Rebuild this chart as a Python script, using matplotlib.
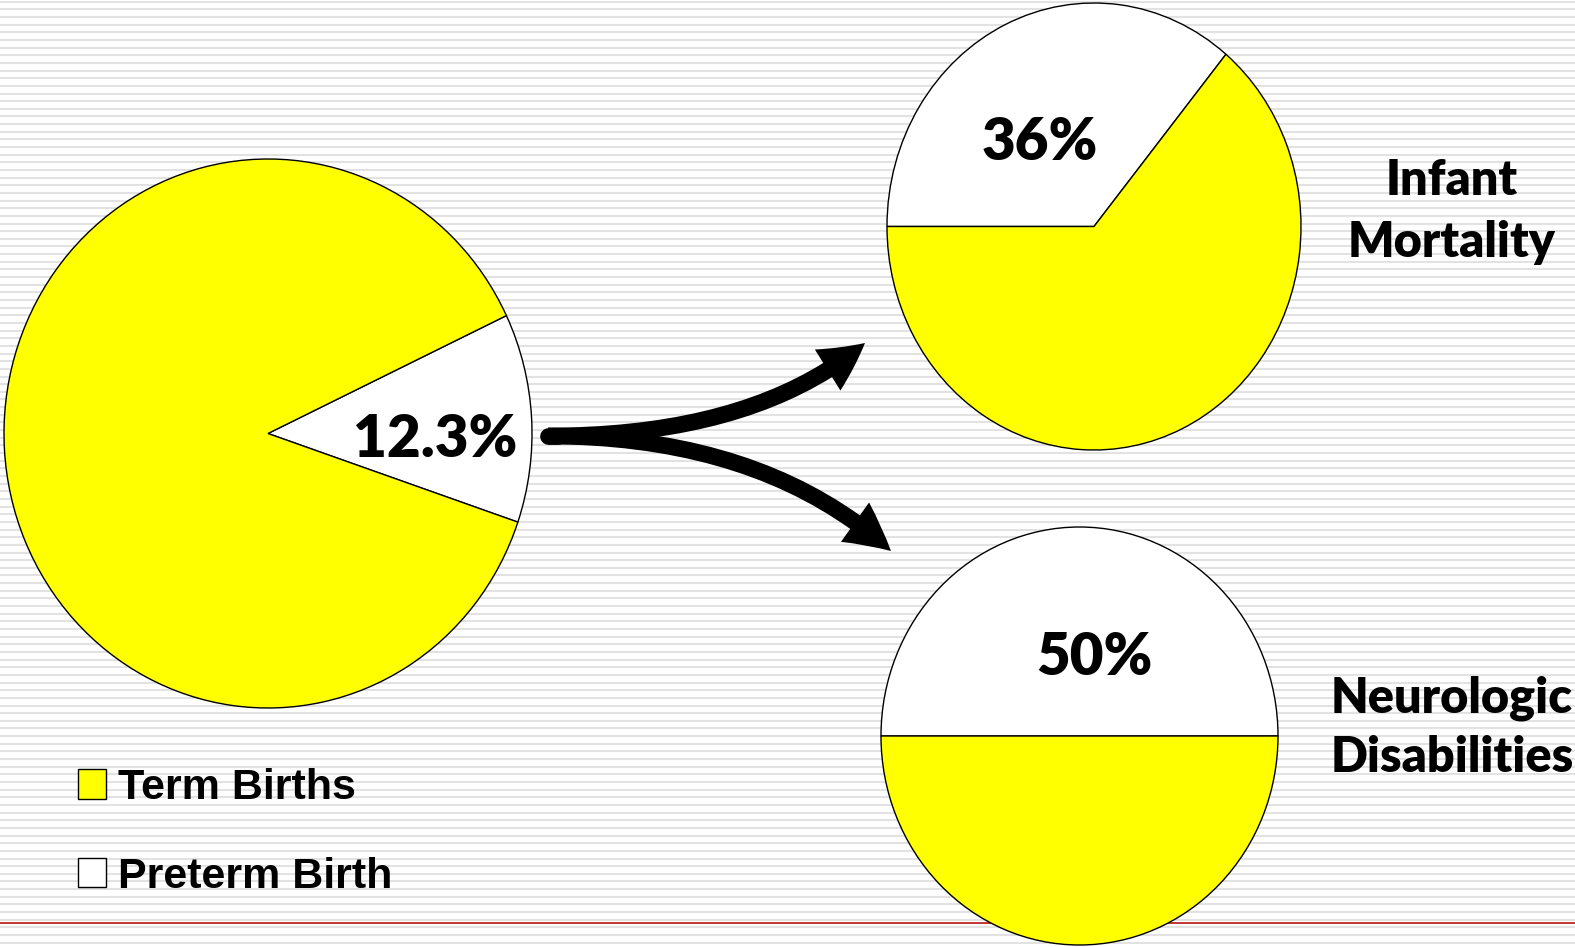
import numpy as np
import matplotlib
matplotlib.use("Agg")
import matplotlib.pyplot as plt
from matplotlib.patches import FancyArrowPatch, ArrowStyle
from matplotlib.font_manager import FontProperties

# data
birth_labels = ["Preterm Birth", "Term Births"]
birth_share = [12.3, 87.7]
mortality_share = [36, 64]      # share of infant mortality due to preterm birth
neuro_share = [50, 50]          # share of neurologic disabilities due to preterm birth
outcome_titles = [["Infant", "Mortality"], ["Neurologic", "Disabilities"]]
pie_colors = ["white", "#ffff00"]

W, H = 1575, 947
fig = plt.figure(figsize=(W / 100, H / 100), dpi=100)
fig.patch.set_facecolor("white")


def px_box(x0, y0, x1, y1):
    # pixel box (top-left origin) -> figure fraction rect
    return [x0 / W, 1 - y1 / H, (x1 - x0) / W, (y1 - y0) / H]


# striped background + bottom rule
bg = fig.add_axes([0, 0, 1, 1], zorder=0)
bg.set_xlim(0, W)
bg.set_ylim(H, 0)
bg.axis("off")
for y in np.arange(1.7, H, 7.65):
    bg.axhline(y, color="#e2e2e2", lw=1.45)
bg.axhline(923, color="#b00000", lw=1.1)

wedge_style = dict(edgecolor="black", linewidth=1.0, clip_on=False)


def draw_pie(box, values, start):
    ax = fig.add_axes(px_box(*box), zorder=1)
    wedges, _ = ax.pie(values, colors=pie_colors, startangle=start,
                       wedgeprops=wedge_style)
    ax.set_xlim(-1, 1)
    ax.set_ylim(-1, 1)
    ax.set_aspect("auto")
    ax.axis("off")
    return wedges


# main pie, preterm wedge centred near 3 degrees
mid = 3.3
main_wedges = draw_pie((4, 159, 532, 708), birth_share, mid - birth_share[0] * 3.6 / 2)
draw_pie((887, 3, 1301, 450), mortality_share, 180 - mortality_share[0] * 3.6)
draw_pie((881, 527, 1278, 945), neuro_share, 0)

# overlay for labels, arrows, legend
ov = fig.add_axes([0, 0, 1, 1], zorder=2)
ov.set_xlim(0, W)
ov.set_ylim(H, 0)
ov.axis("off")

pct_font = dict(family="Lato", weight="heavy", size=42, color="black",
                ha="center", va="baseline")
ov.text(435, 457, f"{birth_share[0]:g}%", **pct_font)
ov.text(1040, 160, f"{mortality_share[0]:g}%", **pct_font)
ov.text(1094, 675, f"{neuro_share[0]:g}%", **pct_font)

title_font = dict(family="Lato", weight="heavy", size=35, color="black",
                  ha="center", va="baseline")
for lines, baselines in zip(outcome_titles, [(195, 257), (712, 772)]):
    for line, yb in zip(lines, baselines):
        ov.text(1452, yb, line, **title_font)

# forked arrow
head = ArrowStyle.Simple(head_length=0.83, head_width=0.87, tail_width=0.3)
start = (548, 436)
for tip, ang in [((865, 343), 40), ((891, 551), -42)]:
    arr = FancyArrowPatch(start, tip, arrowstyle=head, mutation_scale=40,
                          connectionstyle=f"angle3,angleA=0,angleB={ang}",
                          shrinkA=0, shrinkB=0, color="black", lw=0)
    ov.add_patch(arr)
ov.plot([start[0], start[0] + 10], [start[1], start[1]], color="black",
        lw=12, solid_capstyle="round")

# legend
leg = ov.legend(main_wedges[::-1], birth_labels[::-1], loc="upper left",
                bbox_to_anchor=(78 / W, 1 - 768 / H), bbox_transform=fig.transFigure,
                frameon=False, borderpad=0, borderaxespad=0,
                handlelength=0.65, handleheight=0.67, handletextpad=0.28,
                labelspacing=1.13,
                prop=FontProperties(family="Liberation Sans", weight="bold", size=31))

fig.savefig("out.png", dpi=100)
